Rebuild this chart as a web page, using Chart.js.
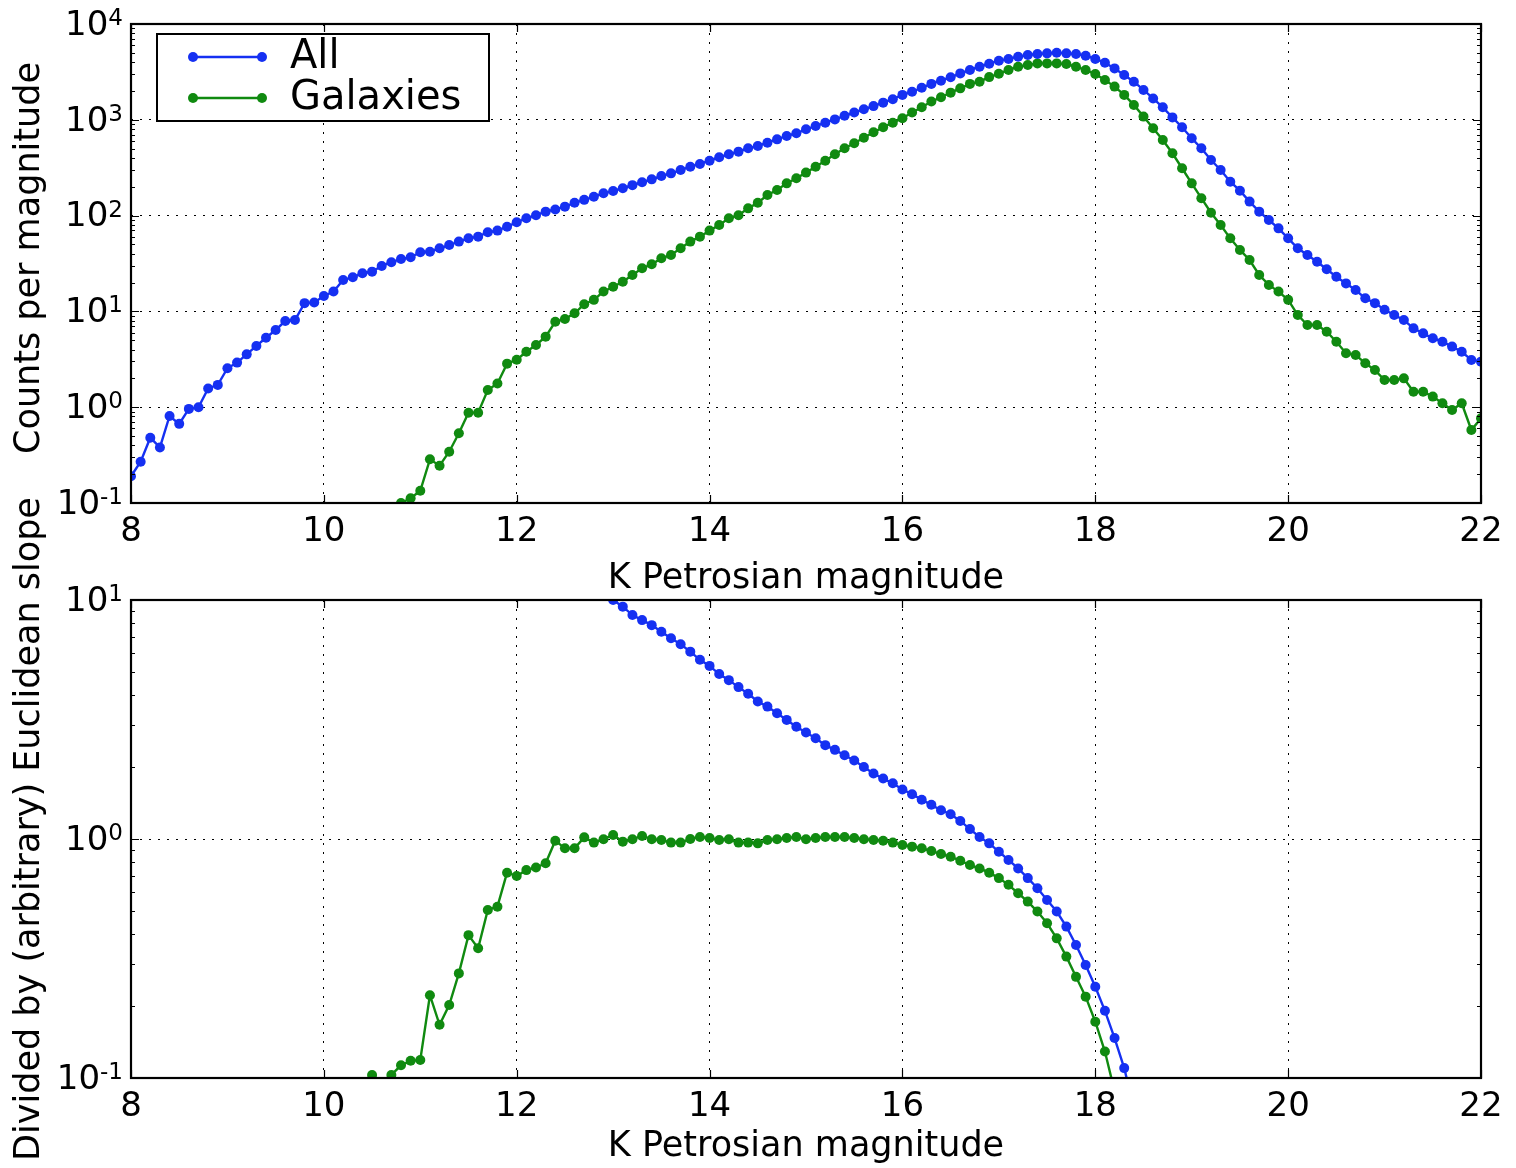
<!DOCTYPE html>
<html>
<head>
<meta charset="utf-8">
<title>K band number counts</title>
<script src="https://cdn.jsdelivr.net/npm/chart.js@4.4.1/dist/chart.umd.min.js"></script>
<style>
  html, body { margin: 0; padding: 0; background: #fff; overflow: hidden; }
  #wrap { position: relative; width: 1516px; height: 1168px; }
  .panel { position: absolute; left: 0; width: 1516px; }
  #topPanel { top: 0; height: 600px; }
  #bottomPanel { top: 480px; height: 688px; }
</style>
</head>
<body>
<div id="wrap">
  <div class="panel" id="topPanel"><canvas id="countsChart"></canvas></div>
  <div class="panel" id="bottomPanel"><canvas id="slopeChart"></canvas></div>
</div>
<script>
// magnitude bin centres, 0.1 mag wide
const magBins = [
  8.0, 8.1, 8.2, 8.3, 8.4, 8.5, 8.6, 8.7, 8.8, 8.9,
  9.0, 9.1, 9.2, 9.3, 9.4, 9.5, 9.6, 9.7, 9.8, 9.9,
  10.0, 10.1, 10.2, 10.3, 10.4, 10.5, 10.6, 10.7, 10.8, 10.9,
  11.0, 11.1, 11.2, 11.3, 11.4, 11.5, 11.6, 11.7, 11.8, 11.9,
  12.0, 12.1, 12.2, 12.3, 12.4, 12.5, 12.6, 12.7, 12.8, 12.9,
  13.0, 13.1, 13.2, 13.3, 13.4, 13.5, 13.6, 13.7, 13.8, 13.9,
  14.0, 14.1, 14.2, 14.3, 14.4, 14.5, 14.6, 14.7, 14.8, 14.9,
  15.0, 15.1, 15.2, 15.3, 15.4, 15.5, 15.6, 15.7, 15.8, 15.9,
  16.0, 16.1, 16.2, 16.3, 16.4, 16.5, 16.6, 16.7, 16.8, 16.9,
  17.0, 17.1, 17.2, 17.3, 17.4, 17.5, 17.6, 17.7, 17.8, 17.9,
  18.0, 18.1, 18.2, 18.3, 18.4, 18.5, 18.6, 18.7, 18.8, 18.9,
  19.0, 19.1, 19.2, 19.3, 19.4, 19.5, 19.6, 19.7, 19.8, 19.9,
  20.0, 20.1, 20.2, 20.3, 20.4, 20.5, 20.6, 20.7, 20.8, 20.9,
  21.0, 21.1, 21.2, 21.3, 21.4, 21.5, 21.6, 21.7, 21.8, 21.9,
  22.0
];

// counts per magnitude, all sources
const countsAll = [
  0.19, 0.27, 0.48, 0.38, 0.81, 0.67, 0.96, 1.0, 1.57, 1.71,
  2.55, 2.92, 3.56, 4.36, 5.31, 6.40, 7.94, 8.13, 12.2, 12.4,
  14.5, 16.1, 21.3, 22.7, 25.0, 26.0, 29.8, 32.6, 35.2, 36.7,
  41.4, 42.0, 45.6, 49.3, 53.5, 57.9, 60.3, 67.0, 69.7, 76.6,
  85.1, 93.8, 101, 110, 116, 124, 136, 146, 157, 171,
  181, 193, 208, 223, 239, 259, 276, 299, 324, 346,
  374, 406, 437, 465, 504, 533, 577, 625, 678, 723,
  796, 861, 933, 1010, 1100, 1190, 1290, 1390, 1510, 1640,
  1820, 1960, 2160, 2370, 2560, 2780, 3050, 3310, 3580, 3850,
  4140, 4320, 4560, 4740, 4860, 4940, 5020, 4940, 4860, 4670,
  4320, 3940, 3440, 2940, 2500, 2050, 1670, 1350, 1060, 836,
  641, 504, 380, 299, 226, 182, 140, 110, 89.9, 73.6,
  57.9, 45.6, 38.8, 33.0, 27.5, 23.0, 19.6, 16.7, 13.7, 12.2,
  10.4, 9.16, 8.13, 6.65, 5.90, 5.24, 4.83, 4.29, 3.79, 3.11,
  2.99
];

// counts per magnitude, galaxies only
const countsGalaxies = [
  null, null, null, null, null, null, null, null, null, null,
  null, null, null, null, null, null, null, null, null, null,
  null, null, null, null, null, null, null, null, 0.100, 0.112,
  0.134, 0.286, 0.245, 0.343, 0.535, 0.877, 0.877, 1.51, 1.77, 2.85,
  3.13, 3.79, 4.46, 5.45, 7.80, 8.34, 9.55, 11.9, 13.2, 16.1,
  18.1, 20.4, 24.0, 28.2, 31.0, 35.8, 38.8, 45.6, 53.5, 60.3,
  69.7, 79.8, 93.8, 101, 119, 136, 164, 185, 217, 245,
  281, 324, 374, 437, 504, 569, 650, 740, 836, 933,
  1040, 1190, 1350, 1550, 1720, 1920, 2130, 2370, 2500, 2790,
  3020, 3310, 3580, 3730, 3880, 3880, 3880, 3820, 3580, 3310,
  3010, 2600, 2220, 1820, 1430, 1080, 815, 615, 447, 312,
  217, 152, 107, 79.8, 57.9, 43.8, 34.4, 24.0, 18.9, 16.1,
  13.2, 9.16, 7.21, 7.21, 6.14, 4.83, 3.66, 3.51, 2.87, 2.44,
  1.92, 1.92, 2.00, 1.45, 1.45, 1.29, 1.10, 0.935, 1.10, 0.578,
  0.766
];

// counts divided by the euclidean slope, all sources
const slopeAll = [
  null, null, null, null, null, null, null, null, null, null,
  null, null, null, null, null, null, null, null, null, null,
  null, null, null, null, null, null, null, null, null, null,
  null, null, null, null, null, null, null, null, null, null,
  null, null, null, null, null, null, null, null, 11.7, 10.7,
  10.0, 9.38, 8.65, 8.24, 7.85, 7.36, 6.92, 6.53, 6.08, 5.62,
  5.30, 4.90, 4.62, 4.32, 4.05, 3.76, 3.58, 3.36, 3.15, 2.95,
  2.79, 2.64, 2.47, 2.36, 2.24, 2.13, 2.00, 1.88, 1.79, 1.71,
  1.61, 1.54, 1.46, 1.39, 1.32, 1.27, 1.19, 1.10, 1.02, 0.959,
  0.885, 0.817, 0.753, 0.686, 0.622, 0.556, 0.497, 0.430, 0.360, 0.297,
  0.241, 0.191, 0.147, 0.110, 0.075, null, null, null, null, null,
  null, null, null, null, null, null, null, null, null, null,
  null, null, null, null, null, null, null, null, null, null,
  null, null, null, null, null, null, null, null, null, null,
  null
];

// counts divided by the euclidean slope, galaxies only
const slopeGalaxies = [
  null, null, null, null, null, null, null, null, null, null,
  null, null, null, null, null, null, null, null, null, null,
  null, null, null, null, null, 0.103, null, 0.103, 0.113, 0.118,
  0.119, 0.222, 0.167, 0.202, 0.274, 0.396, 0.349, 0.505, 0.521, 0.723,
  0.700, 0.741, 0.760, 0.791, 0.984, 0.914, 0.914, 1.016, 0.966, 0.998,
  1.04, 0.975, 0.998, 1.03, 0.998, 0.991, 0.966, 0.966, 1.0, 1.02,
  1.01, 0.991, 0.998, 0.966, 0.966, 0.959, 0.991, 0.998, 1.01, 1.02,
  0.998, 1.01, 1.02, 1.02, 1.02, 1.01, 0.998, 0.991, 0.984, 0.966,
  0.944, 0.929, 0.914, 0.891, 0.865, 0.843, 0.811, 0.778, 0.753, 0.723,
  0.686, 0.643, 0.593, 0.547, 0.497, 0.444, 0.384, 0.322, 0.265, 0.219,
  0.172, 0.129, 0.088, null, null, null, null, null, null, null,
  null, null, null, null, null, null, null, null, null, null,
  null, null, null, null, null, null, null, null, null, null,
  null, null, null, null, null, null, null, null, null, null,
  null
];

const magTicks = [8, 10, 12, 14, 16, 18, 20, 22];
const countTicks = [0.1, 1, 10, 100, 1000, 10000];
const countExponents = ['-1', '0', '1', '2', '3', '4'];
const slopeTicks = [0.1, 1, 10];
const slopeExponents = ['-1', '0', '1'];

const seriesNames = ['All', 'Galaxies'];
const seriesColors = ['#1530f2', '#108a10'];

const FONT = 'DejaVu Sans';
const tickFont = { family: FONT, size: 34 };
const titleFont = { family: FONT, size: 35 };

function points(values) {
  return magBins.map((m, i) => ({ x: m, y: values[i] }));
}

function lineSet(label, values, color) {
  return {
    label, data: points(values),
    borderColor: color, backgroundColor: color,
    borderWidth: 2.4, pointRadius: 5, pointBorderWidth: 0,
    pointHoverRadius: 5, spanGaps: false, clip: 0, tension: 0
  };
}

// boxed frame plus inward major/minor ticks, matplotlib style
const frameTicks = {
  id: 'frameTicks',
  afterDatasetsDraw(chart) {
    const { ctx, chartArea: a, scales: { x, y } } = chart;
    ctx.save();
    ctx.strokeStyle = '#000';
    ctx.lineWidth = 1.2;
    ctx.beginPath();
    magTicks.forEach(v => {
      const px = Math.round(x.getPixelForValue(v)) + 0.5;
      ctx.moveTo(px, a.bottom); ctx.lineTo(px, a.bottom - 8);
      ctx.moveTo(px, a.top); ctx.lineTo(px, a.top + 8);
    });
    const lo = Math.round(Math.log10(y.min)), hi = Math.round(Math.log10(y.max));
    for (let d = lo; d <= hi; d++) {
      for (let k = 1; k <= 9; k++) {
        const v = k * Math.pow(10, d);
        if (v > y.max * 1.0001) break;
        const py = Math.round(y.getPixelForValue(v)) + 0.5;
        const len = k === 1 ? 8 : 4;
        ctx.moveTo(a.left, py); ctx.lineTo(a.left + len, py);
        ctx.moveTo(a.right, py); ctx.lineTo(a.right - len, py);
      }
    }
    ctx.stroke();
    ctx.lineWidth = 2.2;
    ctx.strokeRect(a.left, a.top, a.right - a.left, a.bottom - a.top);
    ctx.restore();
  }
};

// power-of-ten tick labels with a raised exponent
const powerLabels = {
  id: 'powerLabels',
  afterDraw(chart, args, o) {
    const { ctx, chartArea: a, scales: { y } } = chart;
    ctx.save();
    ctx.fillStyle = '#000';
    ctx.textBaseline = 'middle';
    ctx.textAlign = 'left';
    o.values.forEach((v, i) => {
      const py = y.getPixelForValue(v);
      ctx.font = `${o.expSize}px "${FONT}"`;
      const ew = ctx.measureText(o.exponents[i]).width;
      ctx.font = `${o.size}px "${FONT}"`;
      const mw = ctx.measureText('10').width;
      const right = a.left - 8;
      ctx.fillText('10', right - ew - mw, py + 2);
      ctx.font = `${o.expSize}px "${FONT}"`;
      ctx.fillText(o.exponents[i], right - ew, py - 5);
    });
    ctx.restore();
  }
};

// rotated y-axis caption at a fixed centre
const sideTitle = {
  id: 'sideTitle',
  afterDraw(chart, args, o) {
    const { ctx } = chart;
    ctx.save();
    ctx.translate(o.x, o.y);
    ctx.rotate(-Math.PI / 2);
    ctx.font = `${o.size}px "${FONT}"`;
    ctx.fillStyle = '#000';
    ctx.textAlign = 'center';
    ctx.textBaseline = 'middle';
    ctx.fillText(o.text, 0, 0);
    ctx.restore();
  }
};

// legend box drawn inside the upper-left of the plot
const insetLegend = {
  id: 'insetLegend',
  afterDraw(chart, args, o) {
    const { ctx } = chart;
    ctx.save();
    ctx.fillStyle = '#fff';
    ctx.fillRect(o.x, o.y, o.w, o.h);
    ctx.strokeStyle = '#000';
    ctx.lineWidth = 2;
    ctx.strokeRect(o.x, o.y, o.w, o.h);
    ctx.font = `${o.size}px "${FONT}"`;
    ctx.textBaseline = 'middle';
    chart.data.datasets.forEach((ds, i) => {
      const cy = o.y + o.rowTop + i * o.rowGap;
      ctx.strokeStyle = ds.borderColor;
      ctx.fillStyle = ds.borderColor;
      ctx.lineWidth = 2.4;
      ctx.beginPath();
      ctx.moveTo(o.x + o.lineFrom, cy); ctx.lineTo(o.x + o.lineTo, cy);
      ctx.stroke();
      [o.lineFrom, o.lineTo].forEach(dx => {
        ctx.beginPath();
        ctx.arc(o.x + dx, cy, 5, 0, Math.PI * 2);
        ctx.fill();
      });
      ctx.fillStyle = '#000';
      ctx.fillText(ds.label, o.x + o.textX, cy + 1);
    });
    ctx.restore();
  }
};

function axes(tickVals, xHeight) {
  const dash = [2, 7];
  return {
    x: {
      type: 'linear', min: 8, max: 22,
      afterBuildTicks: s => { s.ticks = magTicks.map(v => ({ value: v })); },
      afterFit: s => { s.height = xHeight; },
      ticks: { font: tickFont, color: '#000', padding: 9, maxRotation: 0, autoSkip: false },
      grid: { color: '#000', lineWidth: 1, drawTicks: false },
      border: { display: false, dash },
      title: { display: true, text: 'K Petrosian magnitude', font: titleFont, color: '#000', padding: 0 }
    },
    y: {
      type: 'logarithmic', min: tickVals[0], max: tickVals[tickVals.length - 1],
      afterBuildTicks: s => { s.ticks = tickVals.map(v => ({ value: v })); },
      afterFit: s => { s.width = 131; },
      ticks: { display: false },
      grid: { color: '#000', lineWidth: 1, drawTicks: false },
      border: { display: false, dash }
    }
  };
}

function baseOptions(padTop, tickVals, exponents, xHeight, titleText, titleY) {
  return {
    responsive: true,
    maintainAspectRatio: false,
    animation: false,
    devicePixelRatio: 1,
    layout: { padding: { top: padTop, right: 35, left: 0, bottom: 0 } },
    scales: axes(tickVals, xHeight),
    plugins: {
      legend: { display: false },
      tooltip: { enabled: false },
      sideTitle: { text: titleText, x: 30, y: titleY, size: 35 },
      powerLabels: { values: tickVals, exponents, size: 34, expSize: 23 }
    }
  };
}

const topOpts = baseOptions(24, countTicks, countExponents, 97, 'Counts per magnitude', 258);
topOpts.plugins.insetLegend = { x: 157, y: 34, w: 332, h: 87, rowTop: 23, rowGap: 41, lineFrom: 36, lineTo: 105, textX: 133, size: 40 };

new Chart(document.getElementById('countsChart'), {
  type: 'line',
  data: {
    datasets: [
      lineSet(seriesNames[0], countsAll, seriesColors[0]),
      lineSet(seriesNames[1], countsGalaxies, seriesColors[1])
    ]
  },
  options: topOpts,
  plugins: [frameTicks, powerLabels, sideTitle, insetLegend]
});

new Chart(document.getElementById('slopeChart'), {
  type: 'line',
  data: {
    datasets: [
      lineSet(seriesNames[0], slopeAll, seriesColors[0]),
      lineSet(seriesNames[1], slopeGalaxies, seriesColors[1])
    ]
  },
  options: baseOptions(120, slopeTicks, slopeExponents, 90, 'Divided by (arbitrary) Euclidean slope', 349),
  plugins: [frameTicks, powerLabels, sideTitle]
});
</script>
</body>
</html>
